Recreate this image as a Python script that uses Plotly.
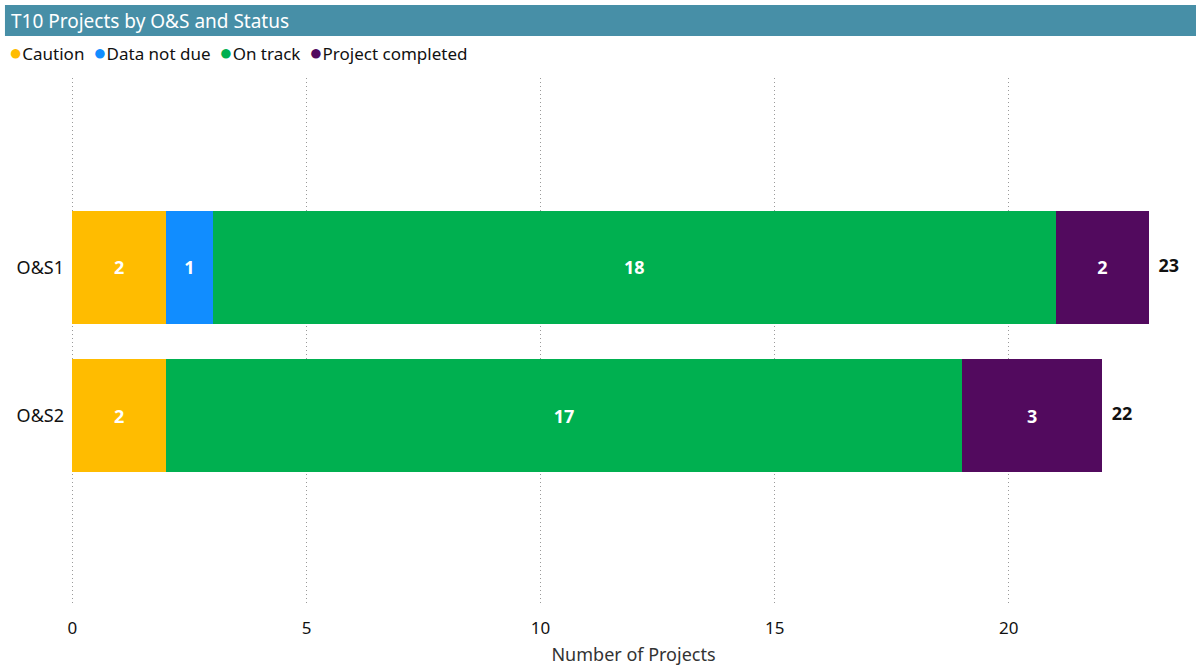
import plotly.graph_objects as go

categories = ["O&S1", "O&S2"]
statuses = ["Caution", "Data not due", "On track", "Project completed"]
caution = [2, 2]
data_not_due = [1, None]
on_track = [18, 17]
project_completed = [2, 3]
totals = [23, 22]
x_ticks = [0, 5, 10, 15, 20]

colors = ["#FFBC00", "#118DFF", "#00B050", "#520A5E"]
series = [caution, data_not_due, on_track, project_completed]
FONT = "Noto Sans"
TXT = "#111111"

fig = go.Figure()
for name, vals, col in zip(statuses, series, colors):
    fig.add_trace(go.Bar(
        y=categories, x=vals, name=name, orientation="h",
        marker=dict(color=col, line=dict(width=0)),
        text=[("" if v is None else str(v)) for v in vals],
        textposition="inside", insidetextanchor="middle",
        textfont=dict(color="white", size=18, family=FONT, weight="bold"),
        showlegend=False, hoverinfo="x+name",
    ))

fig.add_trace(go.Scatter(
    y=categories, x=totals, mode="text",
    text=[str(t) for t in totals], texttemplate="  %{text}",
    textposition="middle right",
    textfont=dict(color="#111111", size=18, family=FONT, weight="bold"),
    showlegend=False, hoverinfo="skip", cliponaxis=False,
))

legend_text = "&nbsp;&nbsp;".join(
    f"<span style='color:{c};font-size:22px'>●</span>{s}" for s, c in zip(statuses, colors)
)

fig.update_layout(
    barmode="stack",
    bargap=0.243,
    width=1196, height=666,
    margin=dict(l=71, r=0, t=78, b=61),
    paper_bgcolor="white", plot_bgcolor="white",
    font=dict(family=FONT, color=TXT),
    showlegend=False,
    xaxis=dict(
        range=[-0.03, 24], tickvals=x_ticks, showgrid=True,
        gridcolor="#9a9a9a", griddash="1px,3px", gridwidth=1,
        zeroline=False, showline=False, ticks="",
        ticklabelstandoff=11,
        tickfont=dict(size=17, color=TXT, family=FONT),
        title=dict(text="Number of Projects", font=dict(size=18, color="#333333", family=FONT), standoff=12),
    ),
    yaxis=dict(
        categoryorder="array", categoryarray=categories,
        range=[2.28, -1.28], showgrid=False, zeroline=False, showline=False,
        ticks="", ticklabelstandoff=6,
        tickfont=dict(size=18, color=TXT, family=FONT),
    ),
    shapes=[dict(
        type="rect", xref="paper", yref="paper",
        x0=-0.0587, x1=1.0, y0=1.0797, y1=1.1385,
        fillcolor="#478FA7", line=dict(width=0), layer="below",
    )],
    annotations=[
        dict(
            text="T10 Projects by O&S and Status", xref="paper", yref="paper",
            x=-0.0551, y=1.109, xanchor="left", yanchor="middle", showarrow=False,
            font=dict(size=19, color="white", family=FONT),
        ),
        dict(
            text=legend_text, xref="paper", yref="paper",
            x=-0.0570, y=1.051, xanchor="left", yanchor="middle", showarrow=False,
            font=dict(size=17, color=TXT, family=FONT),
        ),
    ],
)

fig.write_html("out.html", config={"displayModeBar": False},
               post_script="document.body.style.margin='0';")
